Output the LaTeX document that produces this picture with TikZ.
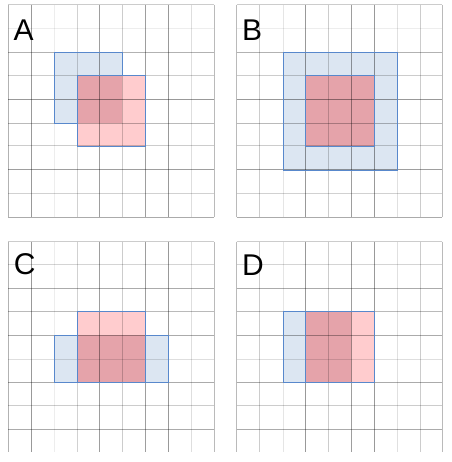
\documentclass[tikz,border=0pt]{standalone}
\usepackage{fontspec}
\setmainfont{Liberation Sans}
\definecolor{bfill}{RGB}{220,230,242}
\definecolor{rfill}{RGB}{255,204,206}
\definecolor{ofill}{RGB}{229,163,170}
\definecolor{edge}{RGB}{88,136,204}
\tikzset{
  gridline/.style={line width=1pt, draw=black},
  rectedge/.style={draw=edge, line width=0.8pt, line cap=rect, line join=miter},
  lbl/.style={anchor=base west, inner sep=0pt, font=\fontsize{30}{30}\selectfont, text=black},
}
\begin{document}
\begin{tikzpicture}[x=1pt,y=-1pt]
\useasboundingbox[fill=white] (0,0) rectangle (451,462);

% ---------- fills ----------
% A
\fill[bfill] (54,52.3) rectangle (122.3,123.3);
\fill[rfill] (77.7,75.7) rectangle (145.7,146);
\fill[ofill] (77.7,75.7) rectangle (122.3,123.3);
% B
\fill[bfill] (283.3,52.3) rectangle (397.3,170);
\fill[ofill] (305,75.7) rectangle (374,146);
% C
\fill[bfill] (54,335) rectangle (168.7,382.3);
\fill[rfill] (77.7,311) rectangle (145.7,382.3);
\fill[ofill] (77.7,335) rectangle (145.7,382.3);
% D
\fill[bfill] (283.3,311) rectangle (351,382.3);
\fill[rfill] (305,311) rectangle (374,382.3);
\fill[ofill] (305,311) rectangle (351,382.3);

% ---------- grids ----------
% top panels (A, B): horizontal lines
\foreach \y/\p in {5/.20, 28.3/.07, 52.3/.30, 75.7/.20, 99.3/.40, 123.3/.27, 146/.20, 170/.38, 193.3/.18, 217/.33}{
  \draw[gridline, draw opacity=\p] (8.3,\y) -- (214,\y);
  \draw[gridline, draw opacity=\p] (236.7,\y) -- (442.3,\y);
}
% bottom panels (C, D): horizontal lines
\foreach \y/\p in {241.7/.20, 264.3/.17, 288.3/.33, 311/.27, 335/.33, 359.3/.13, 382.3/.33, 405/.20, 429.3/.33}{
  \draw[gridline, draw opacity=\p] (8.3,\y) -- (214,\y);
  \draw[gridline, draw opacity=\p] (236.7,\y) -- (442.3,\y);
}
% left panels (A, C): vertical lines
\foreach \x/\p in {8.3/.30, 31.7/.40, 54/.07, 77.7/.18, 99.3/.38, 122.3/.20, 145.7/.38, 168.7/.40, 191.7/.13, 214/.27}{
  \draw[gridline, draw opacity=\p] (\x,5) -- (\x,217);
  \draw[gridline, draw opacity=\p] (\x,241.7) -- (\x,452.3);
}
% right panels (B, D): vertical lines
\foreach \x/\p in {236.7/.27, 259.3/.20, 283.3/.10, 305/.40, 328.3/.20, 351/.38, 374/.40, 397.3/.12, 420/.20, 442.3/.27}{
  \draw[gridline, draw opacity=\p] (\x,5) -- (\x,217);
  \draw[gridline, draw opacity=\p] (\x,241.7) -- (\x,452.3);
}

% ---------- edges ----------
% A
\draw[rectedge] (77.7,123.3) -- (54,123.3) -- (54,52.3) -- (122.3,52.3) -- (122.3,75.7);
\draw[rectedge] (77.7,75.7) rectangle (145.7,146);
% B
\draw[rectedge] (283.3,52.3) rectangle (397.3,170);
\draw[rectedge] (305,75.7) rectangle (374,146);
% C
\draw[rectedge] (77.7,335) -- (54,335) -- (54,382.3) -- (77.7,382.3);
\draw[rectedge] (145.7,335) -- (168.7,335) -- (168.7,382.3) -- (145.7,382.3);
\draw[rectedge] (77.7,311) rectangle (145.7,382.3);
% D
\draw[rectedge] (305,311) -- (283.3,311) -- (283.3,382.3) -- (305,382.3);
\draw[rectedge] (305,311) rectangle (374,382.3);

% ---------- labels ----------
\node[lbl] (la) at (13.4,41) {A};
\node[lbl] (lb) at (242,40.7) {B};
\node[lbl] (lc) at (13.6,274.8) {C};
\node[lbl] (ld) at (242,275.7) {D};
\end{tikzpicture}
\end{document}
